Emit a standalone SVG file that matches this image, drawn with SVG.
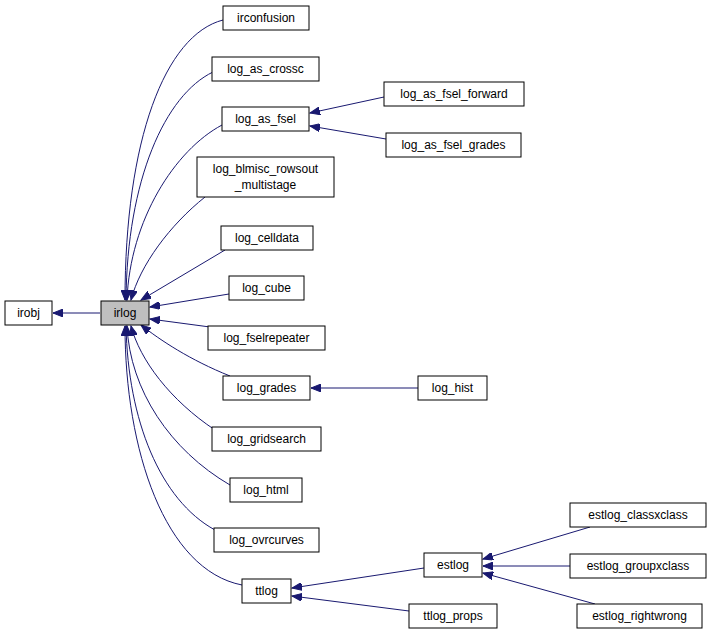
<svg xmlns="http://www.w3.org/2000/svg" width="712" height="636" viewBox="0 0 712 636">
<style>
.n rect{fill:#fff;stroke:#000;stroke-width:1}
.n text{font-family:"Liberation Sans",Arial,sans-serif;font-size:12px;text-anchor:middle;fill:#000}
#edges path{fill:none;stroke:#191970;stroke-width:1;marker-end:url(#ah)}
</style>
<defs><marker id="ah" markerUnits="userSpaceOnUse" markerWidth="11" markerHeight="8" refX="10" refY="4" orient="auto"><path d="M0,0 L10,4 L0,8 z" fill="#191970" stroke="#191970"/></marker></defs>
<rect width="712" height="636" fill="#fff"/>
<g id="edges">
<path d="M100,313 L53,313"/>
<path d="M223,20 C165,35 125,140 125,300"/>
<path d="M213,72 C165,95 127,180 126,300"/>
<path d="M222,125 C175,150 130,220 127,300"/>
<path d="M205,197 C170,225 140,265 131,300"/>
<path d="M225,250 L141,300"/>
<path d="M229,294 L150,307"/>
<path d="M210,327 L150,319"/>
<path d="M230,376 C190,360 160,340 141,325"/>
<path d="M215,430 C170,400 140,360 131,326"/>
<path d="M230,485 C170,450 130,390 127,326"/>
<path d="M215,530 C160,500 128,420 126,326"/>
<path d="M242,585 C165,570 125,450 125,326"/>
<path d="M384,97 L310,113"/>
<path d="M386,139 L310,126"/>
<path d="M418,388 L311,388"/>
<path d="M424,568 L292,588"/>
<path d="M409,611 L292,596"/>
<path d="M590,527 L483,559"/>
<path d="M570,566 L483,566"/>
<path d="M595,604 L483,573"/>
</g>
<g id="irobj" class="n"><rect x="5" y="301" width="47" height="24"/><text x="28.5" y="317">irobj</text></g>
<g id="irlog" class="n"><rect x="101" y="301" width="48" height="24" style="fill:#bfbfbf"/><text x="125" y="317">irlog</text></g>
<g id="irconfusion" class="n"><rect x="223" y="6" width="86" height="24"/><text x="266" y="22">irconfusion</text></g>
<g id="log_as_crossc" class="n"><rect x="212" y="57" width="107" height="24"/><text x="265.5" y="73">log_as_crossc</text></g>
<g id="log_as_fsel" class="n"><rect x="222" y="107" width="87" height="24"/><text x="265.5" y="123">log_as_fsel</text></g>
<g id="log_blmisc" class="n"><rect x="197" y="157" width="137" height="40"/><text x="265.5" y="173">log_blmisc_rowsout</text><text x="265.5" y="189">_multistage</text></g>
<g id="log_celldata" class="n"><rect x="221" y="226" width="92" height="24"/><text x="267" y="242">log_celldata</text></g>
<g id="log_cube" class="n"><rect x="229" y="276" width="75" height="24"/><text x="266.5" y="292">log_cube</text></g>
<g id="log_fselrepeater" class="n"><rect x="208" y="326" width="117" height="24"/><text x="266.5" y="342">log_fselrepeater</text></g>
<g id="log_grades" class="n"><rect x="223" y="376" width="87" height="24"/><text x="266.5" y="392">log_grades</text></g>
<g id="log_gridsearch" class="n"><rect x="212" y="427" width="109" height="24"/><text x="266.5" y="443">log_gridsearch</text></g>
<g id="log_html" class="n"><rect x="230" y="478" width="72" height="24"/><text x="266" y="494">log_html</text></g>
<g id="log_ovrcurves" class="n"><rect x="214" y="528" width="105" height="24"/><text x="266.5" y="544">log_ovrcurves</text></g>
<g id="ttlog" class="n"><rect x="242" y="579" width="49" height="24"/><text x="266.5" y="595">ttlog</text></g>
<g id="log_as_fsel_forward" class="n"><rect x="384" y="82" width="140" height="24"/><text x="454" y="98">log_as_fsel_forward</text></g>
<g id="log_as_fsel_grades" class="n"><rect x="386" y="133" width="135" height="24"/><text x="453.5" y="149">log_as_fsel_grades</text></g>
<g id="log_hist" class="n"><rect x="418" y="376" width="69" height="24"/><text x="452.5" y="392">log_hist</text></g>
<g id="estlog" class="n"><rect x="424" y="553" width="58" height="24"/><text x="453" y="569">estlog</text></g>
<g id="ttlog_props" class="n"><rect x="409" y="604" width="88" height="24"/><text x="453" y="620">ttlog_props</text></g>
<g id="estlog_classxclass" class="n"><rect x="570" y="503" width="136" height="24"/><text x="638" y="519">estlog_classxclass</text></g>
<g id="estlog_groupxclass" class="n"><rect x="570" y="554" width="136" height="24"/><text x="638" y="570">estlog_groupxclass</text></g>
<g id="estlog_rightwrong" class="n"><rect x="577" y="604" width="125" height="24"/><text x="639.5" y="620">estlog_rightwrong</text></g>
</svg>
